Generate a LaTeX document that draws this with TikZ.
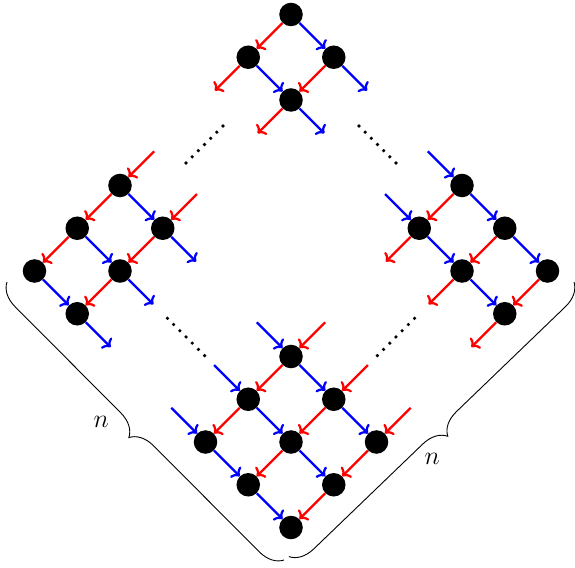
\documentclass[tikz,border=0pt]{standalone}
\usetikzlibrary{arrows.meta,calc,decorations.pathreplacing}
\begin{document}
\begin{tikzpicture}[
  ball/.style={circle,fill=black,inner sep=0pt,minimum size=0.55cm},
  rarr/.style={draw=red,line width=1.5pt,-{To[length=4.5pt,width=10pt]}},
  barr/.style={draw=blue,line width=1.5pt,-{To[length=4.5pt,width=10pt]}},
  bracestyle/.style={draw=black,line width=0.6pt,decorate,decoration={brace,amplitude=0.55cm}},
  lbl/.style={inner sep=0pt,font=\fontsize{16}{19}\selectfont},
]
\useasboundingbox (-6.807,-6.924) rectangle (6.643,6.339);
% top cluster
\node[ball] (T1) at (0,6) {};
\node[ball] (T2) at (-1,5) {};
\node[ball] (T3) at (1,5) {};
\node[ball] (T4) at (0,4) {};
% left cluster
\node[ball] (L1) at (-4,2) {};
\node[ball] (L2) at (-5,1) {};
\node[ball] (L3) at (-3,1) {};
\node[ball] (L4) at (-6,0) {};
\node[ball] (L5) at (-4,0) {};
\node[ball] (L6) at (-5,-1) {};
% right cluster
\node[ball] (R1) at (4,2) {};
\node[ball] (R2) at (3,1) {};
\node[ball] (R3) at (5,1) {};
\node[ball] (R4) at (4,0) {};
\node[ball] (R5) at (6,0) {};
\node[ball] (R6) at (5,-1) {};
% bottom cluster
\node[ball] (B1) at (0,-2) {};
\node[ball] (B2) at (-1,-3) {};
\node[ball] (B3) at (1,-3) {};
\node[ball] (B4) at (-2,-4) {};
\node[ball] (B5) at (0,-4) {};
\node[ball] (B6) at (2,-4) {};
\node[ball] (B7) at (-1,-5) {};
\node[ball] (B8) at (1,-5) {};
\node[ball] (B9) at (0,-6) {};
% internal edges
\foreach \a/\b in {T1/T2,T3/T4,L1/L2,L2/L4,L3/L5,L5/L6,R1/R2,R3/R4,R5/R6,B1/B2,B2/B4,B3/B5,B5/B7,B6/B8,B8/B9}
  \draw[rarr] (\a) -- (\b);
\foreach \a/\b in {T1/T3,T2/T4,L1/L3,L2/L5,L4/L6,R1/R3,R2/R4,R3/R5,R4/R6,B1/B3,B2/B5,B3/B6,B4/B7,B5/B8,B7/B9}
  \draw[barr] (\a) -- (\b);
% free outgoing
\foreach \n in {T2,T4,R2,R4,R6} {
  \path (\n) ++(-0.78,-0.78) coordinate (\n-ro);
  \draw[rarr] (\n) -- (\n-ro);
}
\foreach \n in {T3,T4,L3,L5,L6} {
  \path (\n) ++(0.78,-0.78) coordinate (\n-bo);
  \draw[barr] (\n) -- (\n-bo);
}
% free incoming
\foreach \n in {L1,L3,B1,B3,B6} {
  \path (\n) ++(0.8,0.8) coordinate (\n-ri);
  \draw[rarr] (\n-ri) -- (\n);
}
\foreach \n in {R1,R2,B1,B2,B4} {
  \path (\n) ++(-0.8,0.8) coordinate (\n-bi);
  \draw[barr] (\n-bi) -- (\n);
}
% dotted lines
\coordinate (d1a) at (-2.456,2.526); \coordinate (d1b) at (-1.591,3.392);
\coordinate (d2a) at (1.591,3.392);  \coordinate (d2b) at (2.456,2.526);
\coordinate (d3a) at (-2.89,-1.106); \coordinate (d3b) at (-2.02,-1.98);
\coordinate (d4a) at (2.02,-1.98);   \coordinate (d4b) at (2.89,-1.106);
\foreach \p in {d1,d2,d3,d4}
  \foreach \i in {0,...,6}
    \fill ($(\p a)!\i/6!(\p b)$) circle (1.2pt);
% braces
\coordinate (A) at (-6.643,-0.257);
\coordinate (B) at (-0.164,-6.76);
\coordinate (C) at (-0.05,-6.68);
\coordinate (D) at (6.62,-0.26);
\draw[bracestyle] (B) -- (A);
\draw[bracestyle] (D) -- (C);
\node[lbl] (nl) at (-4.44,-3.53) {$n$};
\node[lbl] (nr) at (3.305,-4.398) {$n$};
\end{tikzpicture}
\end{document}
